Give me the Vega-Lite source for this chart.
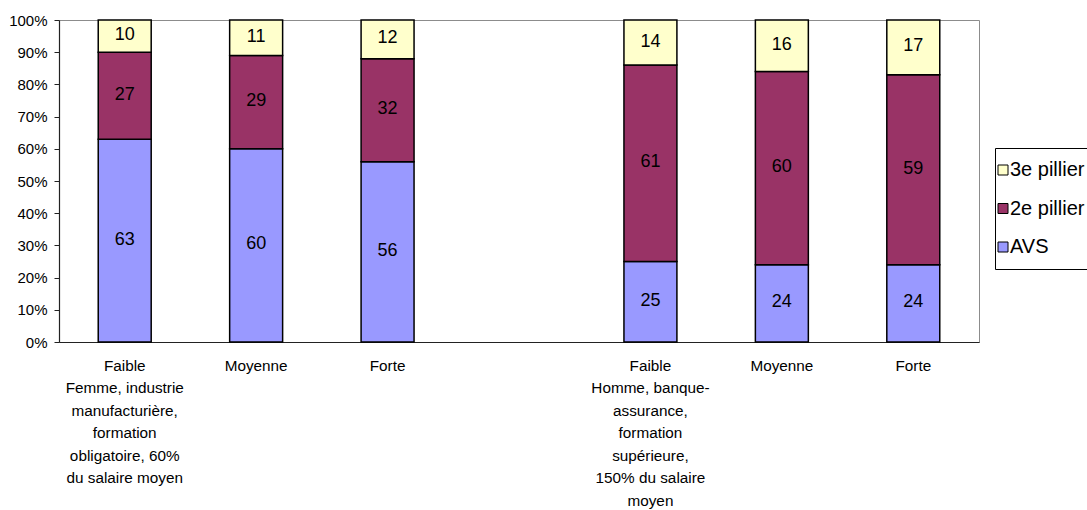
{
  "$schema": "https://vega.github.io/schema/vega-lite/v6.json",
  "autosize": {"type": "none"},
  "width": 920,
  "height": 322,
  "padding": {"left": 59, "top": 20, "right": 108, "bottom": 168},
  "background": "white",
  "config": {
    "font": "Liberation Sans",
    "view": {"stroke": "#8c8c8c", "strokeWidth": 1},
    "axis": {"labelFont": "Liberation Sans", "labelColor": "#000", "domainColor": "#222", "domainWidth": 1.2, "tickColor": "#222", "grid": false, "title": null}
  },
  "data": {
    "values": [
      {"cat": "Faible|Femme, industrie|manufacturière,|formation|obligatoire, 60%|du salaire moyen", "serie": "AVS", "rang": 1, "part": 63},
      {"cat": "Faible|Femme, industrie|manufacturière,|formation|obligatoire, 60%|du salaire moyen", "serie": "2e pillier", "rang": 2, "part": 27},
      {"cat": "Faible|Femme, industrie|manufacturière,|formation|obligatoire, 60%|du salaire moyen", "serie": "3e pillier", "rang": 3, "part": 10},
      {"cat": "Moyenne", "serie": "AVS", "rang": 1, "part": 60},
      {"cat": "Moyenne", "serie": "2e pillier", "rang": 2, "part": 29},
      {"cat": "Moyenne", "serie": "3e pillier", "rang": 3, "part": 11},
      {"cat": "Forte", "serie": "AVS", "rang": 1, "part": 56},
      {"cat": "Forte", "serie": "2e pillier", "rang": 2, "part": 32},
      {"cat": "Forte", "serie": "3e pillier", "rang": 3, "part": 12},
      {"cat": "Faible|Homme, banque-|assurance,|formation|supérieure,|150% du salaire|moyen", "serie": "AVS", "rang": 1, "part": 25},
      {"cat": "Faible|Homme, banque-|assurance,|formation|supérieure,|150% du salaire|moyen", "serie": "2e pillier", "rang": 2, "part": 61},
      {"cat": "Faible|Homme, banque-|assurance,|formation|supérieure,|150% du salaire|moyen", "serie": "3e pillier", "rang": 3, "part": 14},
      {"cat": "Moyenne ", "serie": "AVS", "rang": 1, "part": 24},
      {"cat": "Moyenne ", "serie": "2e pillier", "rang": 2, "part": 60},
      {"cat": "Moyenne ", "serie": "3e pillier", "rang": 3, "part": 16},
      {"cat": "Forte ", "serie": "AVS", "rang": 1, "part": 24},
      {"cat": "Forte ", "serie": "2e pillier", "rang": 2, "part": 59},
      {"cat": "Forte ", "serie": "3e pillier", "rang": 3, "part": 17}
    ]
  },
  "encoding": {
    "x": {
      "field": "cat",
      "type": "nominal",
      "sort": null,
      "scale": {
        "domain": [
          "Faible|Femme, industrie|manufacturière,|formation|obligatoire, 60%|du salaire moyen",
          "Moyenne",
          "Forte",
          " ",
          "Faible|Homme, banque-|assurance,|formation|supérieure,|150% du salaire|moyen",
          "Moyenne ",
          "Forte "
        ],
        "paddingInner": 0.597,
        "paddingOuter": 0.2985
      },
      "axis": {
        "labelAngle": 0,
        "ticks": false,
        "labelFontSize": 15.3,
        "labelLineHeight": 22.5,
        "labelPadding": 16,
        "labelBaseline": "top",
        "labelLimit": 0,
        "labelExpr": "split(datum.value, '|')"
      }
    },
    "y": {
      "field": "part",
      "type": "quantitative",
      "stack": "zero",
      "scale": {"domain": [0, 100], "nice": false},
      "axis": {
        "values": [0, 10, 20, 30, 40, 50, 60, 70, 80, 90, 100],
        "labelExpr": "datum.value + '%'",
        "labelFontSize": 15,
        "tickSize": 5,
        "labelPadding": 7
      }
    },
    "order": {"field": "rang", "type": "quantitative"}
  },
  "layer": [
    {
      "mark": {"type": "bar", "stroke": "#000", "strokeWidth": 1.5},
      "encoding": {
        "color": {
          "field": "serie",
          "type": "nominal",
          "scale": {"domain": ["3e pillier", "2e pillier", "AVS"], "range": ["#FFFFCC", "#993366", "#9999FF"]},
          "legend": {
            "orient": "none",
            "legendX": 936,
            "legendY": 128,
            "title": null,
            "padding": 12,
            "strokeColor": "#000",
            "fillColor": "#fff",
            "symbolType": "square",
            "symbolSize": 100,
            "symbolOffset": -14,
            "symbolStrokeColor": "#000",
            "symbolStrokeWidth": 1,
            "symbolOpacity": 1,
            "labelFontSize": 20,
            "labelColor": "#000",
            "labelOffset": -3,
            "rowPadding": 18.5,
            "labelLimit": 0
          }
        }
      }
    },
    {
      "mark": {"type": "text", "fontSize": 18, "color": "#000", "baseline": "middle", "dy": -1},
      "encoding": {
        "y": {"field": "part", "type": "quantitative", "stack": "zero", "bandPosition": 0.5},
        "text": {"field": "part", "type": "quantitative"}
      }
    }
  ]
}
